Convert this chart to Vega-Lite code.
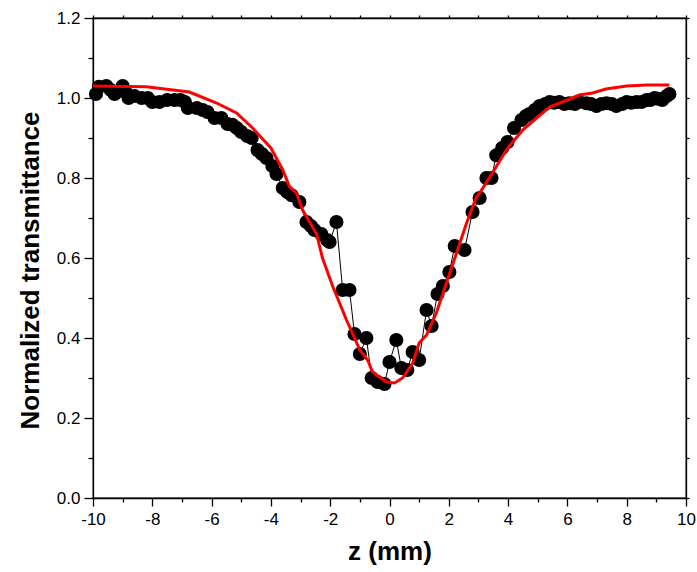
{
  "$schema": "https://vega.github.io/schema/vega-lite/v6.json",
  "autosize": "none",
  "width": 593,
  "height": 480,
  "padding": {"left": 93, "top": 18, "right": 11, "bottom": 74},
  "background": "white",
  "config": {
    "view": {"stroke": "black", "strokeWidth": 1.3},
    "font": "Liberation Sans",
    "axis": {
      "domainColor": "black",
      "domainWidth": 1.3,
      "tickColor": "black",
      "tickWidth": 1.3,
      "labelColor": "black",
      "labelFont": "Liberation Sans",
      "labelFontSize": 17,
      "titleColor": "black",
      "titleFont": "Liberation Sans",
      "titleFontWeight": "bold",
      "titleFontSize": 26,
      "grid": false
    }
  },
  "datasets": {
    "measured": [
      {"z": -9.9, "t": 1.01}, {"z": -9.8, "t": 1.028}, {"z": -9.55, "t": 1.03}, {"z": -9.4, "t": 1.02}, {"z": -9.27, "t": 1.01},
      {"z": -9.0, "t": 1.03}, {"z": -8.9, "t": 1.015}, {"z": -8.8, "t": 1.0}, {"z": -8.6, "t": 1.005}, {"z": -8.36, "t": 1.0},
      {"z": -8.15, "t": 1.0}, {"z": -8.0, "t": 0.99}, {"z": -7.76, "t": 0.99}, {"z": -7.5, "t": 0.995},
      {"z": -7.25, "t": 0.995}, {"z": -7.05, "t": 0.995}, {"z": -6.9, "t": 0.99}, {"z": -6.8, "t": 0.975},
      {"z": -6.5, "t": 0.975}, {"z": -6.3, "t": 0.97}, {"z": -6.14, "t": 0.965}, {"z": -5.9, "t": 0.95},
      {"z": -5.67, "t": 0.95}, {"z": -5.46, "t": 0.935}, {"z": -5.3, "t": 0.933}, {"z": -5.15, "t": 0.925},
      {"z": -5.0, "t": 0.915}, {"z": -4.8, "t": 0.905}, {"z": -4.65, "t": 0.9}, {"z": -4.45, "t": 0.87},
      {"z": -4.3, "t": 0.86}, {"z": -4.15, "t": 0.85}, {"z": -3.95, "t": 0.83}, {"z": -3.81, "t": 0.81},
      {"z": -3.6, "t": 0.775}, {"z": -3.45, "t": 0.765}, {"z": -3.3, "t": 0.757}, {"z": -3.04, "t": 0.74},
      {"z": -2.8, "t": 0.69}, {"z": -2.65, "t": 0.68}, {"z": -2.53, "t": 0.67}, {"z": -2.3, "t": 0.66},
      {"z": -2.1, "t": 0.645}, {"z": -2.02, "t": 0.64}, {"z": -1.79, "t": 0.69}, {"z": -1.58, "t": 0.52},
      {"z": -1.35, "t": 0.52}, {"z": -1.18, "t": 0.41}, {"z": -1.0, "t": 0.36}, {"z": -0.78, "t": 0.4},
      {"z": -0.6, "t": 0.3}, {"z": -0.4, "t": 0.29}, {"z": -0.17, "t": 0.285}, {"z": 0.0, "t": 0.34},
      {"z": 0.23, "t": 0.395}, {"z": 0.4, "t": 0.325}, {"z": 0.6, "t": 0.32}, {"z": 0.78, "t": 0.365},
      {"z": 1.0, "t": 0.345}, {"z": 1.25, "t": 0.47}, {"z": 1.42, "t": 0.43}, {"z": 1.62, "t": 0.51},
      {"z": 1.8, "t": 0.53}, {"z": 2.02, "t": 0.565}, {"z": 2.2, "t": 0.63}, {"z": 2.53, "t": 0.62},
      {"z": 2.8, "t": 0.715}, {"z": 3.04, "t": 0.75}, {"z": 3.27, "t": 0.8}, {"z": 3.44, "t": 0.8},
      {"z": 3.6, "t": 0.857}, {"z": 3.8, "t": 0.875}, {"z": 3.98, "t": 0.89}, {"z": 4.2, "t": 0.925},
      {"z": 4.45, "t": 0.945}, {"z": 4.6, "t": 0.955}, {"z": 4.72, "t": 0.96}, {"z": 4.9, "t": 0.97}, {"z": 5.06, "t": 0.98},
      {"z": 5.25, "t": 0.985}, {"z": 5.4, "t": 0.99}, {"z": 5.55, "t": 0.988}, {"z": 5.73, "t": 0.99}, {"z": 5.9, "t": 0.985}, {"z": 6.07, "t": 0.987},
      {"z": 6.25, "t": 0.985}, {"z": 6.4, "t": 0.99}, {"z": 6.64, "t": 0.987}, {"z": 6.8, "t": 0.985}, {"z": 6.98, "t": 0.98},
      {"z": 7.15, "t": 0.985}, {"z": 7.32, "t": 0.987}, {"z": 7.5, "t": 0.985}, {"z": 7.65, "t": 0.98}, {"z": 7.85, "t": 0.985},
      {"z": 8.0, "t": 0.99}, {"z": 8.15, "t": 0.988}, {"z": 8.33, "t": 0.99}, {"z": 8.5, "t": 0.99}, {"z": 8.67, "t": 0.995},
      {"z": 8.8, "t": 0.995}, {"z": 8.94, "t": 1.0}, {"z": 9.05, "t": 0.998}, {"z": 9.2, "t": 0.995}, {"z": 9.35, "t": 1.005}, {"z": 9.44, "t": 1.01}
    ],
    "fit": [
      {"z": -10, "t": 1.03}, {"z": -8.2, "t": 1.028}, {"z": -6.75, "t": 1.015}, {"z": -5.83, "t": 0.9875},
      {"z": -5.16, "t": 0.9625}, {"z": -4.62, "t": 0.925}, {"z": -4.0, "t": 0.875}, {"z": -3.6, "t": 0.82},
      {"z": -3.37, "t": 0.778}, {"z": -3.14, "t": 0.7625}, {"z": -2.93, "t": 0.72}, {"z": -2.46, "t": 0.66},
      {"z": -2.26, "t": 0.6}, {"z": -1.92, "t": 0.53}, {"z": -1.45, "t": 0.445}, {"z": -1.0, "t": 0.37},
      {"z": -0.74, "t": 0.345}, {"z": -0.57, "t": 0.315}, {"z": -0.1, "t": 0.29}, {"z": 0.17, "t": 0.2875},
      {"z": 0.44, "t": 0.3}, {"z": 0.78, "t": 0.3375}, {"z": 1.0, "t": 0.3875}, {"z": 1.25, "t": 0.4075},
      {"z": 1.58, "t": 0.4625}, {"z": 1.92, "t": 0.5375}, {"z": 2.26, "t": 0.6125}, {"z": 2.6, "t": 0.6875},
      {"z": 2.93, "t": 0.7525}, {"z": 3.04, "t": 0.7625}, {"z": 3.47, "t": 0.8125}, {"z": 3.94, "t": 0.87},
      {"z": 4.49, "t": 0.92}, {"z": 4.96, "t": 0.95}, {"z": 5.4, "t": 0.9775}, {"z": 5.83, "t": 0.99},
      {"z": 6.4, "t": 1.0075}, {"z": 6.85, "t": 1.0125}, {"z": 7.3, "t": 1.0225}, {"z": 8.0, "t": 1.03},
      {"z": 8.67, "t": 1.0325}, {"z": 9.44, "t": 1.0325}
    ]
  },
  "layer": [
    {
      "data": {"name": "measured"},
      "mark": {"type": "line", "color": "black", "strokeWidth": 1},
      "encoding": {
        "x": {"field": "z", "type": "quantitative", "sort": null, "scale": {"domain": [-10, 10], "nice": false, "zero": false}, "axis": null},
        "y": {"field": "t", "type": "quantitative", "scale": {"domain": [0, 1.2], "nice": false}, "axis": null}
      }
    },
    {
      "data": {"name": "measured"},
      "mark": {"type": "circle", "color": "black", "opacity": 1, "size": 200},
      "encoding": {
        "x": {"field": "z", "type": "quantitative", "scale": {"domain": [-10, 10], "nice": false, "zero": false},
          "axis": {
            "orient": "bottom",
            "title": "z (mm)",
            "titlePadding": 11,
            "values": [-10, -9, -8, -7, -6, -5, -4, -3, -2, -1, 0, 1, 2, 3, 4, 5, 6, 7, 8, 9, 10],
            "labelExpr": "datum.value % 2 === 0 ? '' + datum.value : ''",
            "tickSize": {"condition": {"test": "datum.value % 2 === 0", "value": 8}, "value": 4},
            "labelPadding": 5,
            "labelFlush": false,
            "labelOverlap": false
          }
        },
        "y": {"field": "t", "type": "quantitative", "scale": {"domain": [0, 1.2], "nice": false},
          "axis": {
            "orient": "left",
            "title": "Normalized transmittance",
            "titlePadding": 13,
            "titleY": 252,
            "values": [0, 0.1, 0.2, 0.3, 0.4, 0.5, 0.6, 0.7, 0.8, 0.9, 1.0, 1.1, 1.2],
            "labelExpr": "round(datum.value * 10) % 2 === 0 ? format(datum.value, '.1f') : ''",
            "tickSize": {"condition": {"test": "round(datum.value * 10) % 2 === 0", "value": 9}, "value": 5},
            "labelPadding": 4,
            "labelFlush": false,
            "labelOverlap": false
          }
        }
      }
    },
    {
      "data": {"name": "fit"},
      "mark": {"type": "line", "color": "#ff0000", "strokeWidth": 3},
      "encoding": {
        "x": {"field": "z", "type": "quantitative", "sort": null, "scale": {"domain": [-10, 10], "nice": false, "zero": false},
          "axis": {
            "orient": "top",
            "title": null,
            "labels": false,
            "values": [-10, -9, -8, -7, -6, -5, -4, -3, -2, -1, 0, 1, 2, 3, 4, 5, 6, 7, 8, 9, 10],
            "tickSize": 3
          }
        },
        "y": {"field": "t", "type": "quantitative", "scale": {"domain": [0, 1.2], "nice": false},
          "axis": {
            "orient": "right",
            "title": null,
            "labels": false,
            "values": [0, 0.1, 0.2, 0.3, 0.4, 0.5, 0.6, 0.7, 0.8, 0.9, 1.0, 1.1, 1.2],
            "tickSize": 3
          }
        }
      }
    }
  ],
  "resolve": {"axis": {"x": "independent", "y": "independent"}}
}
